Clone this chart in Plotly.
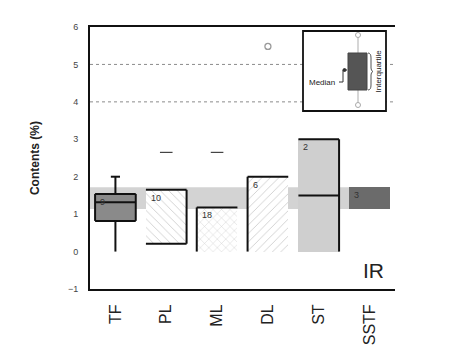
import plotly.graph_objects as go

# ---- data ----
categories = ["TF", "PL", "ML", "DL", "ST", "SSTF"]
box_low = [0.82, 0.21, 0.0, 0.0, 0.0, 1.14]
box_high = [1.54, 1.65, 1.18, 2.0, 3.0, 1.72]
n_labels = ["9", "10", "18", "6", "2", "3"]
median_cats = ["TF", "ST"]
median_vals = [1.32, 1.5]
whisker_cat = "TF"
whisker_low = 0.0
whisker_high = 2.0
dash_cats = ["PL", "ML"]
dash_vals = [2.65, 2.65]
outlier_cats = ["DL"]
outlier_vals = [5.48]
band_low, band_high = 1.14, 1.72
grid_vals = [4, 5]
y_ticks = [-1, 0, 1, 2, 3, 4, 5, 6]

# ---- styles ----
W = 0.8
fills = ["#8a8a8a", "white", "white", "white", "#cfcfcf", "#6b6b6b"]
patterns = ["", "\\", "x", "/", "", ""]
sides = [("t", "r", "b", "l"), ("t", "r", "b"), ("t", "l"), ("t", "l"), ("t", "r"), ()]
FONT = "Liberation Sans, Arial"

idx = {c: i for i, c in enumerate(categories)}
fig = go.Figure()

# reference band
fig.add_shape(type="rect", xref="x", yref="y", x0=-0.5, x1=5 + W / 2,
              y0=band_low, y1=band_high, fillcolor="#d3d3d3", line_width=0, layer="below")
# dotted grid lines at 4 and 5
for g in grid_vals:
    fig.add_shape(type="line", xref="paper", yref="y", x0=0, x1=1, y0=g, y1=g,
                  line=dict(color="#8c8c8c", width=1, dash="dot"), layer="below")

# boxes
for i, c in enumerate(categories):
    fig.add_trace(go.Bar(
        x=[i], y=[box_high[i] - box_low[i]], base=[box_low[i]], width=W,
        marker=dict(color=fills[i], line=dict(width=0),
                    pattern=dict(shape=patterns[i], fgcolor="#a0a0a0", bgcolor="white",
                                 size=6, solidity=0.15, fillmode="overlay") if patterns[i] else None),
        showlegend=False, hoverinfo="skip"))

# partial outlines
ox, oy = [], []
for i, c in enumerate(categories):
    l, r = i - W / 2, i + W / 2
    lo, hi = box_low[i], box_high[i]
    seg = {"t": ((l, hi), (r, hi)), "b": ((l, lo), (r, lo)),
           "l": ((l, lo), (l, hi)), "r": ((r, lo), (r, hi))}
    for s in sides[i]:
        (x0, y0), (x1, y1) = seg[s]
        ox += [x0, x1, None]
        oy += [y0, y1, None]
# medians
for c, m in zip(median_cats, median_vals):
    i = idx[c]
    ox += [i - W / 2, i + W / 2, None]
    oy += [m, m, None]
# whiskers
wi = idx[whisker_cat]
ox += [wi, wi, None, wi, wi, None, wi - 0.09, wi + 0.09, None]
oy += [whisker_low, box_low[wi], None, box_high[wi], whisker_high, None, whisker_high, whisker_high, None]
fig.add_trace(go.Scatter(x=ox, y=oy, mode="lines", line=dict(color="#111", width=2),
                         showlegend=False, hoverinfo="skip"))

# dash markers
fig.add_trace(go.Scatter(x=[idx[c] for c in dash_cats], y=dash_vals, mode="markers",
                         marker=dict(symbol="line-ew", size=9, color="#444",
                                     line=dict(color="#444", width=1.2)),
                         showlegend=False, hoverinfo="skip"))
# outlier circle
fig.add_trace(go.Scatter(x=[idx[c] for c in outlier_cats], y=outlier_vals, mode="markers",
                         marker=dict(symbol="circle-open", size=6, color="#9a9a9a",
                                     line=dict(color="#9a9a9a", width=1.3)),
                         showlegend=False, hoverinfo="skip"))

# n labels
for i, t in enumerate(n_labels):
    fig.add_annotation(x=i - W / 2 + 0.06, y=box_high[i], text=t, showarrow=False,
                       xanchor="left", yanchor="top", yshift=-1,
                       font=dict(family=FONT, size=9, color="#333"))

# IR label
fig.add_annotation(xref="paper", yref="paper", x=0.931, y=0.069, text="IR", showarrow=False,
                   xanchor="center", yanchor="middle",
                   font=dict(family=FONT, size=21, color="#222"))

# y axis title
fig.add_annotation(xref="paper", yref="paper", x=-0.18, y=0.5, text="<b>Contents (%)</b>",
                   textangle=-90, showarrow=False, xanchor="center", yanchor="middle",
                   font=dict(family=FONT, size=12, color="#222"))

# ---- inset legend ----
def px(x):
    return (x - 90) / 305.0

def py(y):
    return (289 - y) / 262.0

fig.add_shape(type="rect", xref="paper", yref="paper", x0=px(303), x1=px(386), y0=py(31), y1=py(111),
              fillcolor="white", line=dict(color="#111", width=1.8))
fig.add_shape(type="line", xref="paper", yref="paper", x0=px(358), x1=px(358), y0=py(37), y1=py(103),
              line=dict(color="#bbb", width=1.2))
for yy in (35, 105):
    fig.add_shape(type="circle", xref="paper", yref="paper", x0=px(355.5), x1=px(360.5),
                  y0=py(yy - 2.5), y1=py(yy + 2.5), fillcolor="white", line=dict(color="#aaa", width=1))
fig.add_shape(type="rect", xref="paper", yref="paper", x0=px(348), x1=px(367), y0=py(53), y1=py(90),
              fillcolor="#555", line=dict(color="#444", width=1))
fig.add_shape(type="path", xref="paper", yref="paper",
              path=f"M {px(339)},{py(82)} L {px(343)},{py(82)} L {px(343)},{py(70)} L {px(347)},{py(70)}",
              line=dict(color="#333", width=1))
fig.add_shape(type="circle", xref="paper", yref="paper", x0=px(343), x1=px(346),
              y0=py(68.5), y1=py(71.5), fillcolor="#333", line=dict(color="#333", width=1))
fig.add_shape(type="path", xref="paper", yref="paper",
              path=f"M {px(368)},{py(53)} Q {px(371)},{py(53)} {px(371)},{py(58)} L {px(371)},{py(68)} "
                   f"Q {px(371)},{py(71)} {px(373)},{py(71.5)} Q {px(371)},{py(72)} {px(371)},{py(75)} "
                   f"L {px(371)},{py(85)} Q {px(371)},{py(90)} {px(368)},{py(90)}",
              line=dict(color="#555", width=1))
fig.add_annotation(xref="paper", yref="paper", x=px(322), y=py(82), text="Median", showarrow=False,
                   xanchor="center", yanchor="middle",
                   font=dict(family=FONT, size=8, color="#222"))
fig.add_annotation(xref="paper", yref="paper", x=px(378.5), y=py(71), text="Interquartile", showarrow=False,
                   textangle=-90, xanchor="center", yanchor="middle",
                   font=dict(family=FONT, size=8, color="#222"))

fig.update_layout(
    width=464, height=351, margin=dict(l=90, r=69, t=27, b=62),
    paper_bgcolor="white", plot_bgcolor="white", bargap=0, barmode="overlay",
    font=dict(family=FONT),
    xaxis=dict(range=[-0.5, 5.5], tickmode="array", tickvals=list(range(len(categories))),
               ticktext=categories, tickangle=-90, showgrid=False, zeroline=False,
               showline=True, mirror=True, linecolor="#111", linewidth=2, ticks="",
               tickfont=dict(size=16, color="#222"), ticklabelstandoff=7, automargin=False),
    yaxis=dict(range=[-1, 6], tickvals=y_ticks, showgrid=False, zeroline=False,
               showline=True, linecolor="#111", linewidth=2, ticks="",
               tickfont=dict(size=9, color="#444"), ticklabelstandoff=8, automargin=False),
)
fig.write_html("out.html")
